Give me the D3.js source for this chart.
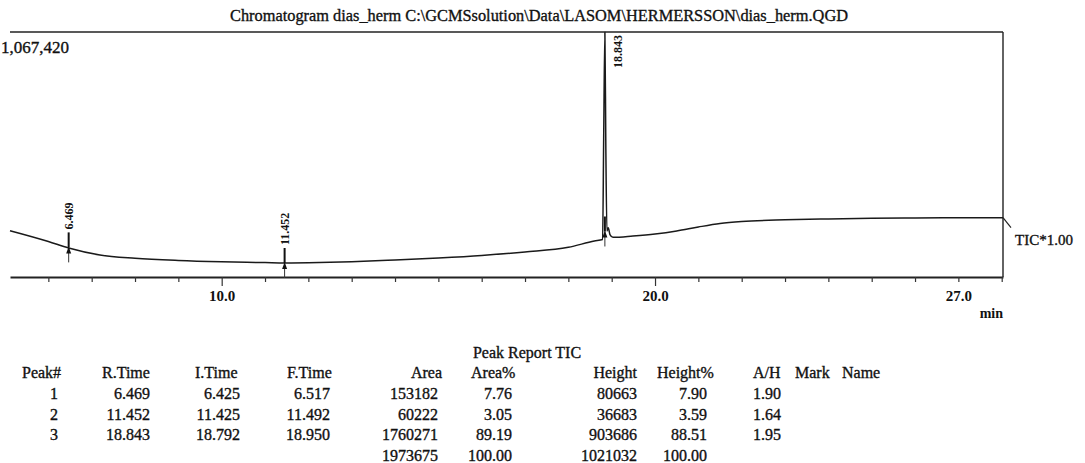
<!DOCTYPE html>
<html>
<head>
<meta charset="utf-8">
<script src="https://cdn.jsdelivr.net/npm/d3@7"></script>
<style>
  html, body { margin: 0; padding: 0; background: #fff; }
  svg { display: block; }
  text { font-family: "Liberation Serif", "Times New Roman", serif; fill: #111; }
</style>
</head>
<body>
<svg id="chart" width="1085" height="463"></svg>
<script>
// ---- TIC trace: retention time (min) vs. total ion current ----
const traceTime = [5.115, 6.0, 6.469, 7.19, 8.0, 9.0, 10.0, 11.0, 11.452, 12.0, 13.0, 14.0,
  15.0, 16.0, 17.0, 18.0, 18.6, 18.79, 18.815, 18.843, 18.865, 18.89, 18.92, 18.96, 19.03,
  19.49, 20.0, 20.5, 21.0, 21.5, 22.0, 23.0, 24.0, 25.0, 26.0, 27.0, 28.03];
const traceTIC = [201700, 154700, 126350, 95850, 81470, 71890, 66220, 62740, 61000, 61870,
  66220, 74070, 82780, 93670, 108920, 129400, 156840, 163380, 600000, 1066000, 560000,
  200000, 215000, 185000, 172960, 178630, 187340, 200410, 217840, 233090, 241800, 249210,
  253130, 255740, 257490, 258360, 258360];

const timeDomain = [5.115, 28.03];
const intensityMax = 1067420;
const labelledTicks = [10, 20, 27];
const majorTicks = [10, 20];

// ---- peak report ----
const peakNo    = [1, 2, 3];
const rTime     = [6.469, 11.452, 18.843];
const iTime     = [6.425, 11.425, 18.792];
const fTime     = [6.517, 11.492, 18.950];
const area      = [153182, 60222, 1760271];
const areaPct   = [7.76, 3.05, 89.19];
const height    = [80663, 36683, 903686];
const heightPct = [7.90, 3.59, 88.51];
const aOverH    = [1.90, 1.64, 1.95];

const titleText = "Chromatogram dias_herm C:\\GCMSsolution\\Data\\LASOM\\HERMERSSON\\dias_herm.QGD";

const svg = d3.select("#chart");
const plotLeft = 10, plotRight = 1003, plotTop = 32, plotBottom = 277;

const x = d3.scaleLinear().domain(timeDomain).range([plotLeft, plotRight]);
const y = d3.scaleLinear().domain([0, intensityMax]).range([plotBottom, plotTop]);

const trace = traceTime.map((t, i) => ({ t, v: traceTIC[i] }));
const traceAt = t => {
  const i = d3.bisector(d => d.t).left(trace, t);
  if (i <= 0) return trace[0].v;
  if (i >= trace.length) return trace[trace.length - 1].v;
  const a = trace[i - 1], b = trace[i];
  return a.v + (b.v - a.v) * (t - a.t) / (b.t - a.t);
};

// printed text is slightly heavy, like a photocopy
const ink = sel => sel.attr("stroke", "#111").attr("stroke-width", 0.35);

// title
svg.append("text")
  .attr("x", 539).attr("y", 21)
  .attr("text-anchor", "middle")
  .attr("font-size", 17)
  .attr("textLength", 618).attr("lengthAdjust", "spacingAndGlyphs")
  .call(ink)
  .text(titleText);

// frame: top rule and right border
svg.append("line").attr("x1", plotLeft).attr("x2", plotRight).attr("y1", plotTop).attr("y2", plotTop)
  .attr("stroke", "#222").attr("stroke-width", 1.4);
svg.append("line").attr("x1", plotRight).attr("x2", plotRight).attr("y1", plotTop).attr("y2", plotBottom)
  .attr("stroke", "#222").attr("stroke-width", 1.4);

// full-scale intensity
svg.append("text").attr("x", 1).attr("y", 53).attr("font-size", 17).call(ink)
  .text(d3.format(",")(intensityMax));

// time axis
const axis = d3.axisBottom(x)
  .tickValues(d3.range(6, 29))
  .tickSize(5).tickSizeOuter(0)
  .tickFormat(d => labelledTicks.includes(d) ? d.toFixed(1) : "");
const gx = svg.append("g").attr("transform", `translate(0,${plotBottom})`).call(axis);
gx.select(".domain").attr("stroke", "#222").attr("stroke-width", 2);
gx.selectAll(".tick line").attr("stroke", "#333").attr("stroke-width", 1.2)
  .attr("y2", d => majorTicks.includes(d) ? 9 : 5);
gx.selectAll(".tick text")
  .attr("y", 13)
  .style("font-family", "'Liberation Serif','Times New Roman',serif")
  .attr("font-weight", "bold")
  .attr("font-size", 15).attr("fill", "#111");

svg.append("text").attr("x", 1003).attr("y", 318).attr("text-anchor", "end")
  .attr("font-size", 14).attr("font-weight", "bold").text("min");

// trace
const line = d3.line().x(d => x(d.t)).y(d => y(d.v)).curve(d3.curveMonotoneX);
svg.append("path").datum(trace)
  .attr("d", line).attr("fill", "none")
  .attr("stroke", "#1a1a1a").attr("stroke-width", 1.5).attr("stroke-linejoin", "round");

// trace name leader and label
const last = trace[trace.length - 1];
const lx = x(last.t), ly = y(last.v);
svg.append("line").attr("x1", lx).attr("y1", ly).attr("x2", lx + 8).attr("y2", ly + 10)
  .attr("stroke", "#222").attr("stroke-width", 1.2);
svg.append("text").attr("x", lx + 12).attr("y", ly + 27).attr("font-size", 15).call(ink)
  .text("TIC*1.00");

// peak markers and retention-time labels
rTime.forEach((rt, i) => {
  const px = x(rt);
  const baseY = y(traceAt(iTime[i]));
  const apexY = y(d3.max(trace.filter(d => d.t >= iTime[i] && d.t <= fTime[i]), d => d.v) || traceAt(rt));
  const g = svg.append("g");
  g.append("line").attr("x1", px).attr("x2", px).attr("y1", baseY).attr("y2", baseY + 15)
    .attr("stroke", "#333").attr("stroke-width", 1);
  g.append("line").attr("x1", px).attr("x2", px).attr("y1", baseY - 15).attr("y2", baseY)
    .attr("stroke", "#111").attr("stroke-width", 2);
  g.append("path")
    .attr("d", `M${px},${baseY - 1}L${px - 2.5},${baseY + 6}L${px + 2.5},${baseY + 6}Z`)
    .attr("fill", "#111");

  const label = g.append("text").attr("font-size", 12).attr("font-weight", "bold")
    .attr("dy", "0.35em").text(rt.toFixed(3));
  const len = label.node().getComputedTextLength();
  let ly0 = Math.min(apexY, baseY - 15) - 3;
  let lxp = px;
  if (ly0 - len < plotTop + 2) { ly0 = plotTop + 3 + len; lxp = px + 13; }
  label.attr("transform", `translate(${lxp},${ly0}) rotate(-90)`);
});

// peak report table
const tableFont = 16;
svg.append("text").attr("x", 527).attr("y", 358).attr("text-anchor", "middle")
  .attr("font-size", tableFont).call(ink).text("Peak Report TIC");

const cols = [
  { head: "Peak#",   hx: 22,  ha: "start", vx: 58,  va: "end",   val: i => String(peakNo[i]) },
  { head: "R.Time",  hx: 102, ha: "start", vx: 150, va: "end",   val: i => rTime[i].toFixed(3) },
  { head: "I.Time",  hx: 195, ha: "start", vx: 240, va: "end",   val: i => iTime[i].toFixed(3) },
  { head: "F.Time",  hx: 287, ha: "start", vx: 330, va: "end",   val: i => fTime[i].toFixed(3) },
  { head: "Area",    hx: 442, ha: "end",   vx: 438, va: "end",   val: i => String(area[i]),
    total: () => String(d3.sum(area)) },
  { head: "Area%",   hx: 471, ha: "start", vx: 512, va: "end",   val: i => areaPct[i].toFixed(2),
    total: () => d3.sum(areaPct).toFixed(2) },
  { head: "Height",  hx: 637, ha: "end",   vx: 637, va: "end",   val: i => String(height[i]),
    total: () => String(d3.sum(height)) },
  { head: "Height%", hx: 657, ha: "start", vx: 707, va: "end",   val: i => heightPct[i].toFixed(2),
    total: () => d3.sum(heightPct).toFixed(2) },
  { head: "A/H",     hx: 753, ha: "start", vx: 753, va: "start", val: i => aOverH[i].toFixed(2) },
  { head: "Mark",    hx: 795, ha: "start" },
  { head: "Name",    hx: 842, ha: "start" }
];
const headY = 378, rowY0 = 399, rowStep = 20.6;

cols.forEach(c => {
  svg.append("text").attr("x", c.hx).attr("y", headY).attr("text-anchor", c.ha)
    .attr("font-size", tableFont).call(ink).text(c.head);
  if (c.val) {
    peakNo.forEach((_, i) => {
      svg.append("text").attr("x", c.vx).attr("y", rowY0 + i * rowStep)
        .attr("text-anchor", c.va).attr("font-size", tableFont).call(ink).text(c.val(i));
    });
  }
  if (c.total) {
    svg.append("text").attr("x", c.vx).attr("y", rowY0 + peakNo.length * rowStep)
      .attr("text-anchor", c.va).attr("font-size", tableFont).call(ink).text(c.total());
  }
});
</script>
</body>
</html>
